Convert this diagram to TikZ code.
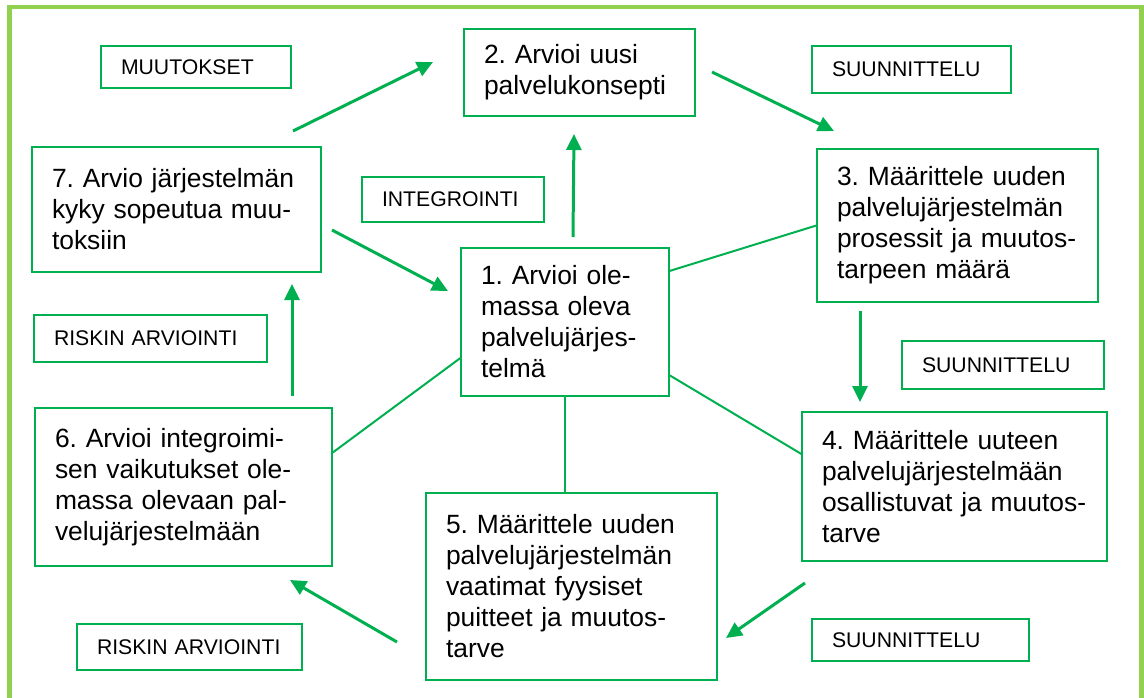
\documentclass[tikz,border=0pt]{standalone}
\usepackage{fontspec}
\setmainfont{Liberation Sans}
\usepackage{tikz}
\usepackage{xcolor}
\usetikzlibrary{arrows.meta,calc,positioning}
\definecolor{vgreen}{RGB}{0,176,80}
\definecolor{framegreen}{RGB}{146,208,80}
\frenchspacing
\begin{document}
\begin{tikzpicture}[x=1pt,y=-1pt,>={Triangle[length=16pt,width=15pt]}]
  \tikzset{
    vaihe/.style={draw=vgreen,line width=1.4pt,fill=white,inner xsep=20pt,inner ysep=0pt,align=left,font=\fontsize{26.4pt}{31pt}\selectfont},
    tag/.style={draw=vgreen,line width=1.4pt,fill=white,inner xsep=20pt,inner ysep=0pt,align=left,font=\fontsize{21.2pt}{25pt}\selectfont},
    conn/.style={draw=vgreen,line width=2pt},
    arr/.style={draw=vgreen,fill=vgreen,line width=3pt,->}
  }
  \useasboundingbox (0,0) rectangle (1144,697);
  \draw[framegreen,line width=4.5pt] (9.5,7) rectangle (1141.5,710);
  \node[tag,text width=150pt,minimum height=42pt] (muut) at (196,67) {MUUTOKSET};
  \node[tag,text width=159pt,minimum height=47pt] (suun1) at (911.5,69.5) {SUUNNITTELU};
  \node[tag,text width=142pt,minimum height=45pt] (integ) at (453,199.5) {INTEGROINTI};
  \node[tag,text width=193pt,minimum height=47pt] (riski1) at (150.5,338.5) {RISKIN ARVIOINTI};
  \node[tag,text width=162pt,minimum height=48pt] (suun2) at (1003,365) {SUUNNITTELU};
  \node[tag,text width=185pt,minimum height=46pt] (riski2) at (189.5,647) {RISKIN ARVIOINTI};
  \node[tag,text width=177pt,minimum height=42pt] (suun3) at (920.5,640) {SUUNNITTELU};
  \node[vaihe,text width=168pt,minimum height=148pt] (v1) at (565,322) {1. Arvioi ole-\\massa oleva\\palvelujärjes-\\telmä};
  \node[vaihe,text width=191pt,minimum height=87pt] (v2) at (579.5,72.5) {2. Arvioi uusi\\palvelukonsepti};
  \node[vaihe,text width=241pt,minimum height=153pt] (v3) at (957.5,225.5) {3. Määrittele uuden\\palvelujärjestelmän\\prosessit ja muutos-\\tarpeen määrä};
  \node[vaihe,text width=265pt,minimum height=149pt] (v4) at (954.5,486.5) {4. Määrittele uuteen\\palvelujärjestelmään\\osallistuvat ja muutos-\\tarve};
  \node[vaihe,text width=251pt,minimum height=187pt] (v5) at (571.5,586.5) {5. Määrittele uuden\\palvelujärjestelmän\\vaatimat fyysiset\\puitteet ja muutos-\\tarve};
  \node[vaihe,text width=257pt,minimum height=158pt] (v6) at (183.5,487) {6. Arvioi integroimi-\\sen vaikutukset ole-\\massa olevaan pal-\\velujärjestelmään};
  \node[vaihe,text width=249pt,minimum height=125pt] (v7) at (176.5,209.5) {7. Arvio järjestelmän\\kyky sopeutua muu-\\toksiin};
  \coordinate (a1s) at (293,131);  \coordinate (a1e) at (433,62);
  \coordinate (a2s) at (573,237);  \coordinate (a2e) at (574,134);
  \coordinate (a3s) at (712,72);   \coordinate (a3e) at (834,131);
  \coordinate (a4s) at (860,311);  \coordinate (a4e) at (860,402);
  \coordinate (a5s) at (805,583);  \coordinate (a5e) at (726,638);
  \coordinate (a6s) at (397,642);  \coordinate (a6e) at (290,580);
  \coordinate (a7s) at (292,396);  \coordinate (a7e) at (292,284);
  \coordinate (a8s) at (332,230);  \coordinate (a8e) at (448,291);
  \draw[conn] (v1.26) -- (v3.west);
  \draw[conn] (v1.-27) -- (v4.168);
  \draw[conn] (v1.south) -- (v1.south |- v5.north);
  \draw[conn] (v6.13) -- (v1.199);
  \draw[arr] (a1s) -- (a1e);
  \draw[arr] (a2s) -- (a2e);
  \draw[arr] (a3s) -- (a3e);
  \draw[arr] (a4s) -- (a4e);
  \draw[arr] (a5s) -- (a5e);
  \draw[arr] (a6s) -- (a6e);
  \draw[arr] (a7s) -- (a7e);
  \draw[arr] (a8s) -- (a8e);
\end{tikzpicture}
\end{document}
